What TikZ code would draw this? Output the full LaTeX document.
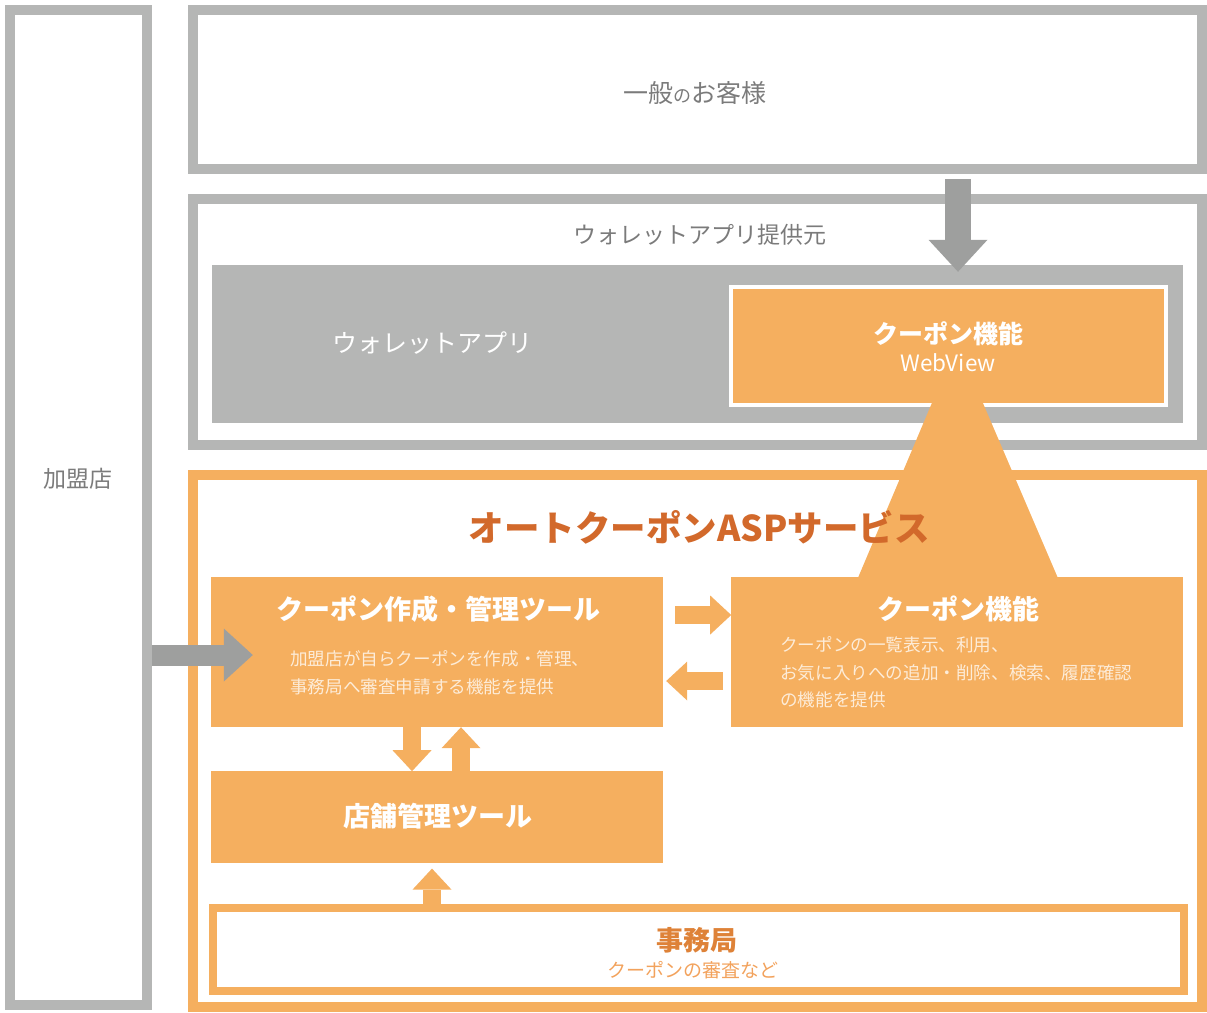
\documentclass[tikz,border=0pt]{standalone}
\usepackage{fontspec}
\setmainfont{Noto Sans CJK JP}
\usetikzlibrary{arrows.meta,positioning,calc}

\definecolor{framegray}{HTML}{B5B6B5}
\definecolor{arrowgray}{HTML}{9E9F9E}
\definecolor{textgray}{HTML}{7B7B7B}
\definecolor{boxorange}{HTML}{F5AF5F}
\definecolor{titleorange}{HTML}{D2692B}
\definecolor{officeorange}{HTML}{DE8238}
\definecolor{noteorange}{HTML}{F2A25C}
\definecolor{notecream}{HTML}{FDECD8}

\tikzset{
  grayframe/.style={draw=framegray, line width=10pt, inner sep=0pt},
  orangeframe/.style={draw=boxorange, line width=10pt, inner sep=0pt},
  orangebox/.style={fill=boxorange, inner sep=0pt},
  boxtitle/.style={text=white, font=\fontsize{27}{27}\selectfont\bfseries, inner sep=0pt},
  boxnote/.style={text=notecream, font=\fontsize{17.6}{27.5}\selectfont, align=left, inner sep=0pt, anchor=west},
  grayarrow/.style n args={3}{draw=arrowgray, line width=#1, -{Triangle[length=#2,width=#3,line width=0pt]}},
  orangearrow/.style={draw=boxorange, line width=18pt, -{Triangle[length=21pt,width=39pt,line width=0pt]}}
}

\begin{document}
\begin{tikzpicture}[x=1pt,y=-1pt]
\useasboundingbox (0,0) rectangle (1207,1012);

% outer frames
\node[grayframe, minimum width=137pt, minimum height=995pt] (kameiten) at (78.5,507.5) {};
\node[text=textgray, font=\fontsize{23}{23}\selectfont] (kameitenlabel) at (78,479) {加盟店};

\node[grayframe, minimum width=1009pt, minimum height=159pt] (cust) at (697.5,89.5) {};
\node[text=textgray, font=\fontsize{25}{25}\selectfont] (custlabel) at (695,93) {一般{\fontsize{18}{18}\selectfont の}お客様};

\node[grayframe, minimum width=1009pt, minimum height=246pt] (prov) at (697.5,322) {};
\node[text=textgray, font=\fontsize{23}{23}\selectfont] (provlabel) at (700,235) {ウォレットアプリ提供元};

\node[fill=framegray, minimum width=971pt, minimum height=158pt, inner sep=0pt] (wapp) at (697.5,344) {};
\node[text=white, font=\fontsize{25}{25}\selectfont] (wapplabel) at (432,343) {ウォレットアプリ};

\node[orangebox, draw=white, line width=4pt, minimum width=435pt, minimum height=118pt] (wv) at (948.5,346) {};
\node[boxtitle, font=\fontsize{25}{25}\selectfont\bfseries] (wvtitle) at (948,334) {クーポン機能};
\node[text=white, font=\fontsize{22.5}{22.5}\selectfont, inner sep=0pt] (wvnote) at (948,363) {WebView};

% ASP service
\node[orangeframe, minimum width=1009pt, minimum height=532pt] (asp) at (697.5,741) {};
\node[orangebox, minimum width=452pt, minimum height=150pt] (tool) at (437,652) {};
\node[orangebox, minimum width=452pt, minimum height=150pt, right=68pt of tool] (func) {};
\node[orangebox, minimum width=452pt, minimum height=92pt, below=44pt of tool] (store) {};
\node[draw=boxorange, line width=8pt, minimum width=971pt, minimum height=83.5pt, inner sep=0pt] (office) at (698,949.25) {};

\fill[boxorange] ([xshift=-25.5pt,yshift=4pt]func.north |- wv.south) -- ([xshift=25.5pt,yshift=4pt]func.north |- wv.south)
  -- ([xshift=100pt]func.north) -- ([xshift=-99pt]func.north) -- cycle;

% arrows
\draw[grayarrow={26pt}{32pt}{59pt}] ([xshift=9.5pt,yshift=-5pt]wv.north |- cust.south) -- ([xshift=9.5pt,yshift=-7pt]wv.north |- wapp.north);
\draw[grayarrow={21pt}{29pt}{53pt}] ([yshift=-3pt]kameiten.east |- tool.west) -- ([xshift=42pt,yshift=-3pt]tool.west);

\draw[orangearrow] ([xshift=12pt,yshift=37pt]tool.east) -- ([yshift=37pt]func.west);
\draw[orangearrow] ([xshift=-8pt,yshift=-29pt]func.west) -- ([xshift=3pt,yshift=-29pt]tool.east);
\draw[orangearrow] ([xshift=-25pt]tool.south) -- ([xshift=-25pt]store.north);
\draw[orangearrow] ([xshift=24pt]store.north) -- ([xshift=24pt]tool.south);
\draw[orangearrow] ([xshift=-5pt]store.south |- office.north) -- ([xshift=-5pt,yshift=-5pt]store.south);

% texts
\node[font=\fontsize{35.5}{35.5}\selectfont\bfseries, text=titleorange] (asptitle) at (699,527) {オートクーポンASPサービス};
\node[boxtitle] (tooltitle) at (438,609) {クーポン作成・管理ツール};
\node[boxnote] (toolnote) at (290,672.5) {加盟店が自らクーポンを作成・管理、\\事務局へ審査申請する機能を提供};
\node[boxtitle] (functitle) at (958,609) {クーポン機能};
\node[boxnote] (funcnote) at (780,672.5) {クーポンの一覧表示、利用、\\お気に入りへの追加・削除、検索、履歴確認\\の機能を提供};
\node[boxtitle] (storetitle) at (438,816) {店舗管理ツール};
\node[font=\fontsize{27}{27}\selectfont\bfseries, text=officeorange, inner sep=0pt] (officetitle) at (697,940) {事務局};
\node[font=\fontsize{19}{19}\selectfont, text=noteorange, inner sep=0pt] (officenote) at (693,970) {クーポンの審査など};
\end{tikzpicture}
\end{document}
